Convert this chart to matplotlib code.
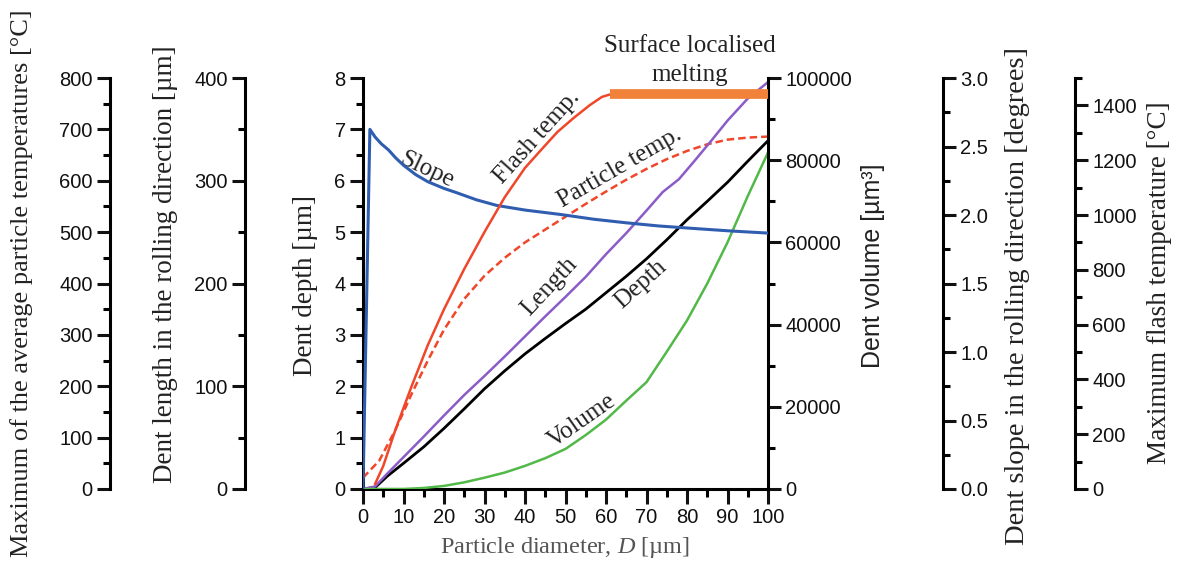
import matplotlib
matplotlib.use("Agg")
import matplotlib.pyplot as plt
from matplotlib.ticker import MultipleLocator, FormatStrFormatter

# ---------------- data ----------------
slope_x = [0, 1.7, 3, 4.5, 6.3, 8, 10, 13, 16, 20, 23, 28, 33, 40, 49, 57,
           65, 73, 82, 91, 100]
slope_deg = [0, 2.625, 2.569, 2.52, 2.475, 2.419, 2.363, 2.295, 2.243, 2.194,
             2.164, 2.111, 2.07, 2.036, 2.003, 1.969, 1.943, 1.92, 1.901,
             1.883, 1.868]

flash_x = [3, 5, 8, 12, 16, 20, 25, 30, 35, 40, 44, 48, 52, 56, 59, 61]
flash_temp = [19, 84, 216, 375, 525, 656, 803, 938, 1065, 1172, 1238, 1303,
              1354, 1401, 1431, 1440]

melt_x = [61, 100]
melt_temp = [1440, 1440]

particle_x = [0, 4, 8, 12, 16, 20, 25, 30, 35, 40, 45, 50, 55, 60, 65, 70, 75,
              80, 85, 90, 95, 100]
particle_temp = [22, 55, 115, 185, 250, 310, 370, 415, 450, 480, 505, 530, 555,
                 579, 602, 623, 642, 658, 671, 680, 684, 686]

length_x = [0, 3, 6, 10, 15, 20, 25, 30, 35, 40, 45, 50, 55, 60, 65, 70, 74,
            78, 82, 86, 90, 95, 100]
length_um = [0, 2.5, 15, 31, 51, 71.5, 91.5, 110, 129, 148.5, 168, 187, 206.5,
             228.5, 249, 271, 289, 301.5, 320, 339, 358.5, 380, 396]

depth_x = [0, 3, 6, 10, 15, 20, 25, 30, 35, 40, 45, 50, 55, 60, 65, 70, 75,
           80, 85, 90, 95, 100]
depth_um = [0, 0.03, 0.25, 0.50, 0.82, 1.18, 1.56, 1.95, 2.30, 2.63, 2.93,
            3.22, 3.50, 3.82, 4.14, 4.48, 4.85, 5.24, 5.60, 5.97, 6.38, 6.78]

volume_x = [0, 10, 15, 20, 25, 30, 35, 40, 45, 50, 55, 60, 65, 70, 75, 80, 85,
            90, 95, 100]
volume_um3 = [0, 0, 250, 750, 1625, 2750, 4000, 5625, 7500, 9750, 13125, 16875,
              21500, 26000, 33400, 41000, 50000, 60000, 71250, 81875]

# ---------------- style ----------------
plt.rcParams['font.family'] = ['Liberation Sans', 'DejaVu Sans']
plt.rcParams['mathtext.fontset'] = 'custom'
plt.rcParams['mathtext.rm'] = 'Liberation Serif'
plt.rcParams['mathtext.it'] = 'Liberation Serif:italic'

SERIF = ['Liberation Serif', 'DejaVu Serif']
SANS = ['Liberation Sans', 'DejaVu Sans']
TICK_FS = 14.5
AX_FS = 19.5
CURVE_FS = 18
TXT = '#222222'
SPW = 2.2

RED = '#f0462a'
ORANGE = '#f0823a'
BLUE = '#2f5db0'
PURPLE = '#8b5cc8'
GREEN = '#52b848'

W, H = 1185, 565
fig = plt.figure(figsize=(W / 100, H / 100), dpi=100)
x0, x1 = 363, 768
y0, y1 = 489, 78
ax = fig.add_axes([x0 / W, (H - y0) / H, (x1 - x0) / W, (y0 - y1) / H])
pw = x1 - x0


def style_ticks(a, axis='y'):
    a.tick_params(axis=axis, which='major', length=9.5, width=SPW,
                  labelsize=TICK_FS, colors='#111111', pad=3)
    a.tick_params(axis=axis, which='minor', length=5, width=SPW)


ax.set_xlim(0, 100)
ax.set_ylim(0, 8)
ax.xaxis.set_major_locator(MultipleLocator(10))
ax.xaxis.set_minor_locator(MultipleLocator(5))
ax.yaxis.set_major_locator(MultipleLocator(1))
ax.yaxis.set_minor_locator(MultipleLocator(0.5))
for s in ['top', 'right']:
    ax.spines[s].set_visible(False)
for s in ['left', 'bottom']:
    ax.spines[s].set_linewidth(SPW)
style_ticks(ax, 'both')
ax.tick_params(axis='x', which='major', length=11)
ax.tick_params(axis='x', which='minor', length=6)


def make_twin(pos_px, side, lim, major, minor, fmt=None):
    t = ax.twinx()
    for s in ['top', 'bottom', 'left', 'right']:
        t.spines[s].set_visible(False)
    t.spines[side].set_visible(True)
    t.spines[side].set_linewidth(SPW)
    t.spines[side].set_position(('axes', (pos_px - x0) / pw))
    t.yaxis.set_ticks_position(side)
    t.yaxis.set_label_position(side)
    t.set_ylim(*lim)
    t.yaxis.set_major_locator(MultipleLocator(major))
    t.yaxis.set_minor_locator(MultipleLocator(minor))
    if fmt:
        t.yaxis.set_major_formatter(fmt)
    style_ticks(t, 'y')
    return t


ax_pt = make_twin(110, 'left', (0, 800), 100, 50)
ax_len = make_twin(245, 'left', (0, 400), 100, 50)
ax_vol = make_twin(768, 'right', (0, 100000), 20000, 10000)
ax_slope = make_twin(943, 'right', (0, 3.0), 0.5, 0.25,
                     fmt=FormatStrFormatter('%.1f'))
ax_flash = make_twin(1075, 'right', (0, 1500), 200, 100)

# ---------------- curves ----------------
ax_vol.plot(volume_x, volume_um3, color=GREEN, lw=1.8)
ax.plot(depth_x, depth_um, color='black', lw=2.0)
ax_len.plot(length_x, length_um, color=PURPLE, lw=1.8)
ax_pt.plot(particle_x, particle_temp, color=RED, lw=1.8, ls=(0, (3, 1.6)))
ax_flash.plot(flash_x, flash_temp, color=RED, lw=1.8)
ax_flash.plot(melt_x, melt_temp, color=ORANGE, lw=7, solid_capstyle='butt')
ax_slope.plot(slope_x, slope_deg, color=BLUE, lw=2.2)

# ---------------- curve labels ----------------
lab_kw = dict(family=SERIF, fontsize=CURVE_FS, color=TXT, ha='center',
              va='center', rotation_mode='anchor', clip_on=False)
ax.text(15.8, 6.2, 'Slope', rotation=-25, **lab_kw)
ax.text(43.0, 6.85, 'Flash temp.', rotation=48, **lab_kw)
ax.text(63.5, 6.25, 'Particle temp.', rotation=30, **lab_kw)
ax.text(46.0, 3.95, 'Length', rotation=47, **lab_kw)
ax.text(68.6, 3.98, 'Depth', rotation=42, **lab_kw)
ax.text(54.1, 1.33, 'Volume', rotation=35, **lab_kw)
ax.text(80.7, 8.62, 'Surface localised', rotation=0, **lab_kw)
ax.text(80.7, 8.06, 'melting', rotation=0, **lab_kw)

# ---------------- axis labels ----------------
def vlabel(px, py, s, family=SERIF, fs=AX_FS):
    fig.text(px / W, 1 - py / H, s, rotation=90, ha='center', va='center',
             family=family, fontsize=fs, color=TXT)


vlabel(22, 283, 'Maximum of the average particle temperatures [°C]', fs=19)
vlabel(165, 264, 'Dent length in the rolling direction [µm]')
vlabel(305, 285, 'Dent depth [µm]')
vlabel(873, 266, 'Dent volume [µm³]', family=SANS, fs=18)
vlabel(1017, 296, 'Dent slope in the rolling direction [degrees]', fs=20.5)
vlabel(1160, 283, 'Maximum flash temperature [°C]')
fig.text(565 / W, 1 - 548 / H, 'Particle diameter, $D$ [µm]', ha='center',
         va='center', family=SERIF, fontsize=17.5, color='#555555')

fig.savefig('out.png', dpi=100)
